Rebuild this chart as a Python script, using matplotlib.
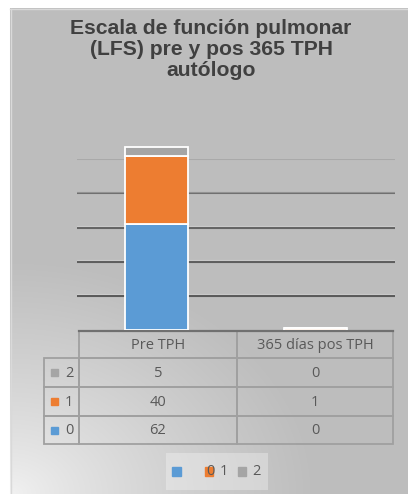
import numpy as np
import matplotlib
matplotlib.use("Agg")
import matplotlib.pyplot as plt
from matplotlib.patches import Rectangle

# ---- data ----
categories = ["Pre TPH", "365 días pos TPH"]
series_names = ["0", "1", "2"]
values_0 = [62, 0]
values_1 = [40, 1]
values_2 = [5, 0]
colors = ["#5b9bd5", "#ed7d31", "#a5a5a5"]
grid_values = [20, 40, 60, 80, 100]
title = "Escala de función pulmonar\n(LFS) pre y pos 365 TPH\nautólogo"

W, H = 408, 494
fig = plt.figure(figsize=(W / 100, H / 100), dpi=100)
fig.patch.set_facecolor("white")

# background axes in pixel coordinates
bg = fig.add_axes([0, 0, 1, 1])
bg.set_xlim(0, W)
bg.set_ylim(H, 0)
bg.axis("off")

# radial gradient: light at bottom-left, gray elsewhere
yy, xx = np.mgrid[0:H, 0:W]
d = np.sqrt(((xx - 10) / 300.0) ** 2 + ((yy - 494) / 230.0) ** 2)
t = np.clip(d, 0, 1) ** 0.8
light = np.array([0.95, 0.95, 0.95])
dark = np.array([0.745, 0.745, 0.745])
img = light[None, None, :] * (1 - t[..., None]) + dark[None, None, :] * t[..., None]
img[:9, :, :] = 1.0
img[:, :10, :] = 1.0
bg.imshow(img, extent=(0, W, H, 0), aspect="auto", interpolation="bilinear", zorder=0)
bg.plot([10.5, 10.5], [9, H], color="#d9d9d9", lw=1, zorder=1)
bg.plot([10, W], [9.5, 9.5], color="#d9d9d9", lw=1, zorder=1)

# title
bg.text(211, 49.5, title, ha="center", va="center", fontsize=15.2, fontweight="bold",
        family="Liberation Sans", color="#404040", linespacing=1.1, zorder=5)

# ---- main axes ----
x0, x1 = 77, 395
ytop, ybase = 125, 330
ax = fig.add_axes([x0 / W, 1 - ybase / H, (x1 - x0) / W, (ybase - ytop) / H])
ax.patch.set_alpha(0)
ax.set_xlim(-0.5, 1.5)
ax.set_ylim(0, 120)
for s in ax.spines.values():
    s.set_visible(False)
ax.set_xticks([])
ax.set_yticks([])

grid_colors = ["#5a5a5a", "#5e5e5e", "#646464", "#6e6e6e", "#a8a8a8"]
for g, c in zip(grid_values, grid_colors):
    ax.axhline(g, color=c, lw=1.5, zorder=1)
    ax.axhline(g + 0.8, color="#ffffff", lw=0.8, alpha=0.25, zorder=1)

xs = np.arange(len(categories))
bottom = np.zeros(len(categories))
for vals, col in zip([values_0, values_1, values_2], colors):
    ax.bar(xs, vals, width=0.39, bottom=bottom, color=col, edgecolor="white",
           linewidth=1.3, zorder=3)
    bottom += np.array(vals)

# ---- data table (pixel coordinates) ----
col_edges = [79, 237, 393]
rowlab_left = 44
row_edges = [331, 358, 387, 416, 444]
line_col = "#a0a0a0"
tfont = dict(family="Open Sans", fontsize=10.5, color="#595959")

# header cells
for i, cat in enumerate(categories):
    bg.add_patch(Rectangle((col_edges[i], row_edges[0]), col_edges[i + 1] - col_edges[i],
                           row_edges[1] - row_edges[0], fill=False, ec=line_col, lw=1.3, zorder=4))
    bg.text((col_edges[i] + col_edges[i + 1]) / 2, (row_edges[0] + row_edges[1]) / 2 + 0.5, cat,
            ha="center", va="center", zorder=5, **tfont)
bg.plot([col_edges[0], col_edges[-1]], [row_edges[0], row_edges[0]], color="#707070", lw=1.6, zorder=5)

rows = [("2", values_2, colors[2]), ("1", values_1, colors[1]), ("0", values_0, colors[0])]
for r, (name, vals, col) in enumerate(rows):
    ya, yb = row_edges[r + 1], row_edges[r + 2]
    yc = (ya + yb) / 2 + 0.5
    bg.add_patch(Rectangle((rowlab_left, ya), col_edges[0] - rowlab_left, yb - ya,
                           fill=False, ec=line_col, lw=1.3, zorder=4))
    bg.add_patch(Rectangle((51, yc - 4), 7, 7, color=col, zorder=5))
    bg.text(65, yc, name, ha="left", va="center", zorder=5, **tfont)
    for i, v in enumerate(vals):
        bg.add_patch(Rectangle((col_edges[i], ya), col_edges[i + 1] - col_edges[i], yb - ya,
                               fill=False, ec=line_col, lw=1.3, zorder=4))
        bg.text((col_edges[i] + col_edges[i + 1]) / 2, yc, str(v), ha="center", va="center",
                zorder=5, **tfont)

# ---- legend (as in reference, overlapping labels) ----
bg.add_patch(Rectangle((166, 453), 102, 37, color="white", alpha=0.3, lw=0, zorder=3))
ly = 471.5
bg.add_patch(Rectangle((172, ly - 4.5), 9, 9, color=colors[0], zorder=5))
bg.add_patch(Rectangle((205, ly - 4.5), 8, 9, color=colors[1], zorder=5))
bg.text(206, ly, series_names[0], ha="left", va="center", zorder=6, **tfont)
bg.text(219.5, ly, series_names[1], ha="left", va="center", zorder=6, **tfont)
bg.add_patch(Rectangle((238, ly - 4.5), 8, 9, color=colors[2], zorder=5))
bg.text(252.5, ly, series_names[2], ha="left", va="center", zorder=6, **tfont)

fig.savefig("out.png", dpi=100)
